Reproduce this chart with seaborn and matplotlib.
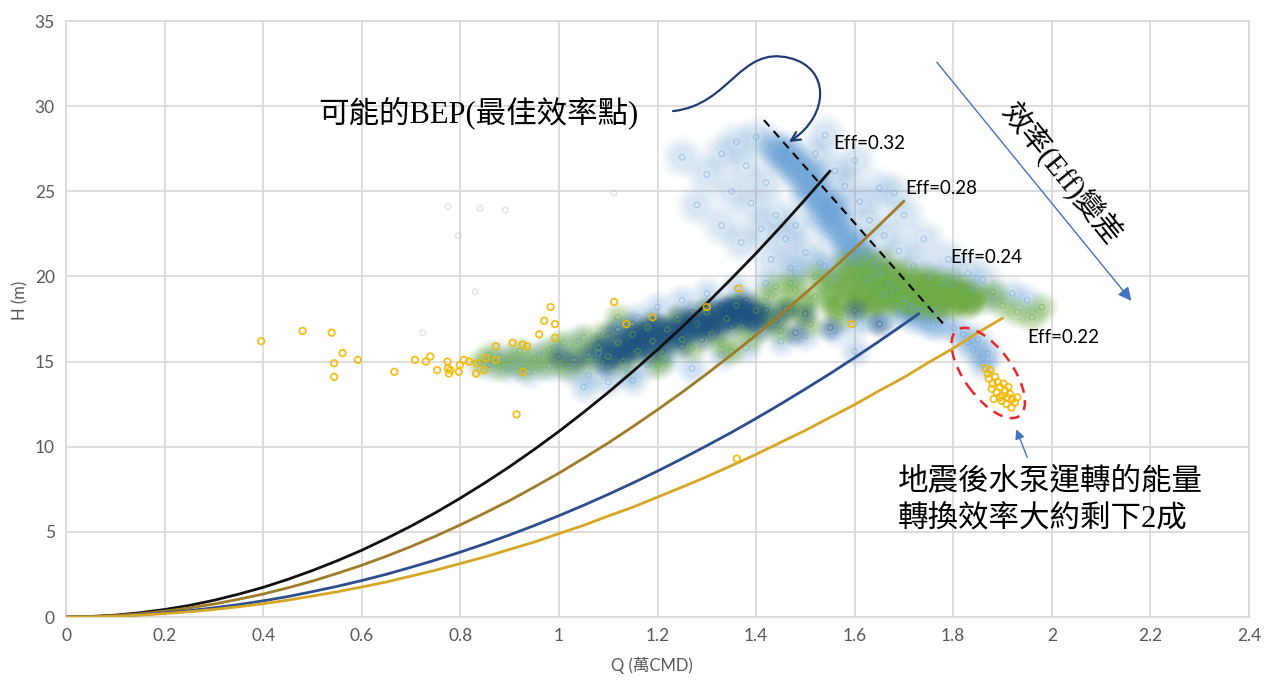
import numpy as np
import matplotlib
matplotlib.use("Agg")
import matplotlib.pyplot as plt
import matplotlib.transforms as mtransforms
from matplotlib.patches import Ellipse, FancyArrowPatch
from matplotlib.path import Path
import seaborn as sns

sns.set_theme(style="white")
plt.rcParams['font.family'] = ['Lato', 'Noto Sans CJK TC', 'DejaVu Sans']

# ---------------- efficiency curves (Q in 萬CMD, H in m) ----------------
q_eff032 = [0, 0.05, 0.1, 0.15, 0.2, 0.25, 0.3, 0.35, 0.4, 0.45, 0.5, 0.55, 0.6, 0.65, 0.7, 0.75,
            0.8, 0.85, 0.9, 0.95, 1.0, 1.05, 1.1, 1.15, 1.2, 1.25, 1.3, 1.35, 1.4, 1.45, 1.5, 1.55]
h_eff032 = [0, 0.03, 0.11, 0.25, 0.44, 0.68, 0.98, 1.34, 1.74, 2.21, 2.73, 3.30, 3.92, 4.61, 5.34, 6.13,
            6.98, 7.88, 8.83, 9.84, 10.9, 12.02, 13.19, 14.42, 15.70, 17.03, 18.42, 19.87, 21.36, 22.92, 24.53, 26.19]

q_eff028 = [0, 0.05, 0.1, 0.15, 0.2, 0.25, 0.3, 0.35, 0.4, 0.45, 0.5, 0.55, 0.6, 0.65, 0.7, 0.75, 0.8, 0.85,
            0.9, 0.95, 1.0, 1.05, 1.1, 1.15, 1.2, 1.25, 1.3, 1.35, 1.4, 1.45, 1.5, 1.55, 1.6, 1.65, 1.7]
h_eff028 = [0, 0.02, 0.08, 0.19, 0.34, 0.53, 0.76, 1.04, 1.35, 1.71, 2.11, 2.56, 3.04, 3.57, 4.14, 4.75, 5.41, 6.11,
            6.84, 7.63, 8.45, 9.32, 10.22, 11.18, 12.17, 13.20, 14.28, 15.40, 16.56, 17.77, 19.01, 20.30, 21.63, 23.01, 24.42]

q_eff024 = [0, 0.05, 0.1, 0.15, 0.2, 0.25, 0.3, 0.35, 0.4, 0.45, 0.5, 0.55, 0.6, 0.65, 0.7, 0.75, 0.8, 0.85,
            0.9, 0.95, 1.0, 1.05, 1.1, 1.15, 1.2, 1.25, 1.3, 1.35, 1.4, 1.45, 1.5, 1.55, 1.6, 1.65, 1.7, 1.73]
h_eff024 = [0, 0.01, 0.06, 0.13, 0.24, 0.37, 0.54, 0.73, 0.95, 1.20, 1.49, 1.80, 2.14, 2.51, 2.92, 3.35, 3.81, 4.30,
            4.82, 5.37, 5.95, 6.56, 7.20, 7.87, 8.57, 9.30, 10.06, 10.84, 11.66, 12.51, 13.39, 14.29, 15.23, 16.20, 17.20, 17.81]

q_eff022 = [0, 0.05, 0.1, 0.15, 0.2, 0.25, 0.3, 0.35, 0.4, 0.45, 0.5, 0.55, 0.6, 0.65, 0.7, 0.75, 0.8, 0.85, 0.9, 0.95,
            1.0, 1.05, 1.1, 1.15, 1.2, 1.25, 1.3, 1.35, 1.4, 1.45, 1.5, 1.55, 1.6, 1.65, 1.7, 1.75, 1.8, 1.85, 1.9]
h_eff022 = [0, 0.01, 0.05, 0.11, 0.20, 0.31, 0.44, 0.60, 0.78, 0.99, 1.23, 1.48, 1.76, 2.06, 2.40, 2.75, 3.14, 3.53, 3.97, 4.40,
            4.90, 5.38, 5.93, 6.45, 7.04, 7.63, 8.24, 8.89, 9.55, 10.26, 10.96, 11.72, 12.47, 13.29, 14.07, 14.95, 15.78, 16.70, 17.55]

# ---------------- operating records ----------------
# light blue: high-head band and surrounding spread
lb_band_q = [1.43, 1.44, 1.46, 1.45, 1.47, 1.48, 1.50, 1.49, 1.51, 1.52,
             1.50, 1.53, 1.54, 1.55, 1.53, 1.56, 1.57, 1.55, 1.58, 1.60,
             1.58, 1.61, 1.62, 1.60, 1.64, 1.65, 1.63, 1.67, 1.68, 1.66,
             1.70, 1.71, 1.73, 1.72, 1.75, 1.77, 1.47, 1.52, 1.56, 1.59]
lb_band_h = [27.8, 27.3, 27.5, 26.9, 26.6, 26.2, 26.4, 25.8, 25.5, 25.0,
             24.8, 24.5, 24.1, 24.4, 23.6, 23.4, 23.0, 22.7, 22.4, 22.1,
             21.8, 21.5, 21.1, 20.8, 20.6, 20.2, 19.9, 19.6, 19.2, 18.9,
             18.7, 18.3, 18.0, 17.6, 17.4, 17.2, 27.1, 25.9, 23.9, 21.3]
lb_haze_q = [1.30, 1.33, 1.36, 1.38, 1.40, 1.35, 1.39, 1.42, 1.44, 1.41,
             1.46, 1.48, 1.50, 1.53, 1.47, 1.56, 1.52, 1.56, 1.58, 1.61,
             1.63, 1.66, 1.69, 1.72, 1.75, 1.78, 1.60, 1.65, 1.70, 1.74,
             1.79, 1.83, 1.28, 1.33, 1.37, 1.43, 1.25, 1.54, 1.68, 1.86]
lb_haze_h = [26.0, 27.2, 27.9, 26.5, 28.2, 25.0, 24.3, 25.5, 23.6, 22.8,
             22.2, 23.0, 21.4, 20.8, 20.5, 20.0, 27.2, 26.2, 25.3, 24.4,
             23.3, 22.4, 21.5, 20.6, 20.0, 19.6, 26.8, 25.2, 23.6, 22.2,
             21.0, 20.2, 24.2, 23.0, 22.0, 21.0, 27.0, 28.3, 24.9, 19.8]
# light blue: low-head band and post-earthquake tail
lb_low_q = [0.86, 0.88, 0.90, 0.92, 0.94, 0.96, 0.98, 1.00, 1.02, 1.04,
            1.06, 1.08, 1.10, 1.12, 1.14, 1.16, 1.18, 1.20, 1.22, 1.25,
            1.27, 1.30, 1.33, 1.36, 1.38, 1.42, 1.45, 1.48, 1.50, 1.54,
            1.56, 1.60, 1.63, 1.66, 1.69, 1.72, 1.76, 1.80, 1.84, 1.88,
            1.92, 1.95, 1.05, 1.15, 1.60,
            1.80, 1.82, 1.83, 1.84, 1.85, 1.86, 1.86, 1.87]
lb_low_h = [14.8, 15.3, 14.6, 15.0, 14.4, 15.4, 14.7, 15.8, 14.5, 16.2,
            14.2, 15.5, 13.8, 17.0, 14.3, 17.6, 14.8, 18.2, 15.2, 18.6,
            14.6, 19.0, 15.4, 19.3, 15.8, 19.6, 16.2, 20.2, 16.5, 20.6,
            16.8, 17.2, 17.5, 17.4, 17.8, 18.2, 18.0, 19.5, 19.2, 18.8,
            19.0, 18.6, 13.5, 13.9, 15.6,
            17.0, 16.6, 16.1, 15.7, 16.3, 15.2, 14.8, 15.5]

green_q = [0.84, 0.86, 0.88, 0.90, 0.92, 0.93, 0.95, 0.97, 0.98, 1.00,
           1.01, 1.02, 1.04, 1.05, 1.06, 1.08, 1.09, 1.10, 1.12, 1.13,
           1.15, 1.16, 1.18, 1.19, 1.21, 1.22, 1.24, 1.25, 1.27, 1.28,
           1.30, 1.31, 1.33, 1.34, 1.36, 1.37, 1.39, 1.40, 1.42, 1.43,
           1.45, 1.46, 1.48, 1.49, 1.51, 1.52, 1.54, 1.55, 1.57, 1.58,
           1.60, 1.61, 1.62, 1.63, 1.64, 1.65, 1.66, 1.67, 1.68, 1.69,
           1.70, 1.71, 1.72, 1.73, 1.74, 1.75, 1.76, 1.77, 1.78, 1.79,
           1.80, 1.81, 1.82, 1.83, 1.84, 1.86, 1.88, 1.90, 1.93, 1.96,
           1.98, 1.58, 1.62, 1.66, 1.52, 1.47, 1.44, 1.12, 1.20, 1.35]
green_h = [14.9, 15.4, 14.7, 15.1, 15.6, 14.6, 15.2, 14.8, 15.7, 15.0,
           16.1, 14.7, 15.5, 16.4, 15.0, 15.8, 16.6, 15.3, 16.1, 15.0,
           16.6, 15.6, 17.0, 16.2, 15.4, 16.9, 17.5, 16.3, 15.8, 17.2,
           17.9, 16.6, 16.0, 17.5, 18.3, 17.0, 16.4, 18.0, 18.8, 17.4,
           16.8, 18.4, 19.2, 17.8, 17.2, 18.8, 19.6, 18.3, 17.6, 19.3,
           20.2, 18.8, 19.7, 18.1, 20.5, 19.2, 18.5, 20.0, 19.5, 18.8,
           20.3, 19.7, 19.0, 18.4, 20.0, 19.3, 18.7, 19.8, 19.1, 18.5,
           19.6, 18.9, 19.3, 18.4, 19.0, 18.6, 19.1, 18.3, 17.9, 17.6,
           18.2, 20.8, 21.0, 20.9, 20.0, 19.6, 19.4, 17.6, 14.8, 15.6]
# densest green records (high-flow band)
green_core_q = [1.55, 1.56, 1.57, 1.58, 1.59, 1.60, 1.61, 1.62, 1.63, 1.64,
                1.65, 1.66, 1.67, 1.68, 1.69, 1.70, 1.71, 1.72, 1.73, 1.74,
                1.75, 1.76, 1.77, 1.78, 1.79, 1.80, 1.81, 1.82, 1.83, 1.84,
                1.56, 1.60, 1.64, 1.68, 1.72, 1.76, 1.80, 1.50, 1.46, 1.42]
green_core_h = [19.0, 19.8, 18.6, 20.1, 19.4, 18.9, 20.4, 19.1, 19.9, 18.7,
                20.0, 19.4, 18.9, 20.2, 19.6, 19.1, 18.6, 19.8, 19.3, 18.9,
                19.6, 19.0, 18.4, 19.4, 18.9, 19.1, 18.6, 18.9, 18.3, 18.7,
                18.2, 18.3, 18.4, 18.3, 18.2, 18.1, 18.2, 18.5, 18.0, 17.6]

navy_q = [1.06, 1.08, 1.09, 1.10, 1.11, 1.12, 1.13, 1.14, 1.15, 1.16,
          1.17, 1.18, 1.19, 1.20, 1.21, 1.22, 1.23, 1.24, 1.25, 1.26,
          1.27, 1.28, 1.29, 1.30, 1.31, 1.32, 1.33, 1.34, 1.35, 1.36,
          1.37, 1.38, 1.39, 1.40, 1.41, 1.42, 1.44, 1.46, 1.48, 1.50,
          1.18, 1.22, 1.14, 1.30, 1.34, 1.26, 1.16, 1.38, 1.55, 1.60,
          1.65, 1.03, 1.00, 1.10]
navy_h = [15.4, 16.0, 15.0, 16.5, 15.6, 16.9, 15.2, 16.3, 17.2, 15.8,
          16.7, 15.4, 17.4, 16.2, 15.6, 17.0, 16.4, 17.6, 15.9, 16.8,
          17.9, 17.2, 16.3, 18.1, 17.5, 16.8, 18.3, 17.7, 17.1, 18.4,
          17.9, 17.3, 18.2, 17.6, 16.9, 18.0, 17.4, 18.1, 16.7, 17.8,
          16.0, 16.2, 15.6, 17.0, 18.0, 17.4, 16.4, 18.6, 17.0, 18.0,
          17.2, 15.1, 15.3, 14.7]
# densest navy records
navy_core_q = [1.12, 1.14, 1.16, 1.18, 1.20, 1.13, 1.15, 1.17, 1.19, 1.21,
               1.23, 1.25, 1.27, 1.24, 1.26, 1.28, 1.30, 1.32, 1.34, 1.36,
               1.38, 1.40, 1.31, 1.33, 1.35, 1.37, 1.39, 1.29, 1.11, 1.09]
navy_core_h = [16.0, 16.4, 16.6, 16.9, 17.1, 15.6, 15.8, 16.1, 16.3, 16.6,
               16.9, 17.1, 17.4, 16.5, 16.7, 16.9, 17.6, 17.9, 18.1, 18.2,
               18.0, 17.8, 17.1, 17.4, 17.6, 17.6, 17.4, 17.2, 15.3, 15.7]

gold_q = [0.396, 0.480, 0.539, 0.561, 0.544, 0.544, 0.592, 0.666, 0.708, 0.730,
          0.739, 0.753, 0.774, 0.775, 0.780, 0.777, 0.797, 0.799, 0.807, 0.818,
          0.833, 0.832, 0.849, 0.852, 0.872, 0.872, 0.906, 0.926, 0.935, 0.960,
          0.970, 0.983, 0.992, 0.992, 0.914, 0.927, 1.112, 1.137, 1.190, 1.300,
          1.365, 1.594, 1.361]
gold_h = [16.2, 16.8, 16.7, 15.5, 14.9, 14.1, 15.1, 14.4, 15.1, 15.0,
          15.3, 14.5, 15.0, 14.6, 14.5, 14.3, 14.4, 14.8, 15.1, 15.0,
          14.9, 14.3, 14.5, 15.2, 15.1, 15.9, 16.1, 16.0, 15.9, 16.6,
          17.4, 18.2, 17.2, 16.4, 11.9, 14.4, 18.5, 17.2, 17.6, 18.2,
          19.3, 17.2, 9.3]
# post-earthquake operating points
quake_q = [1.865, 1.870, 1.875, 1.872, 1.880, 1.885, 1.878, 1.890, 1.888, 1.895,
           1.900, 1.898, 1.905, 1.910, 1.915, 1.908, 1.920, 1.925, 1.930, 1.918,
           1.895, 1.882, 1.902, 1.912]
quake_h = [14.6, 14.3, 14.5, 14.0, 13.7, 14.1, 13.4, 13.8, 13.2, 13.5,
           13.0, 12.7, 13.3, 12.9, 13.1, 12.5, 12.8, 12.6, 12.9, 12.3,
           12.9, 12.8, 13.7, 13.5]

faint_q = [0.775, 0.840, 0.891, 0.724, 0.830, 0.796, 1.112]
faint_h = [24.1, 24.0, 23.9, 16.7, 19.1, 22.4, 24.9]

x_ticks = [0, 0.2, 0.4, 0.6, 0.8, 1.0, 1.2, 1.4, 1.6, 1.8, 2.0, 2.2, 2.4]
x_tick_labels = ['0', '0.2', '0.4', '0.6', '0.8', '1', '1.2', '1.4', '1.6', '1.8', '2', '2.2', '2.4']
y_ticks = [0, 5, 10, 15, 20, 25, 30, 35]
y_tick_labels = ['0', '5', '10', '15', '20', '25', '30', '35']

eff_labels = ['Eff=0.32', 'Eff=0.28', 'Eff=0.24', 'Eff=0.22']

# ---------------- colours ----------------
C_LB = '#6aa3d8'
C_GREEN = '#6cab42'
C_NAVY = '#1d5282'
C_GOLD = '#f2b800'
C_GRID = '#dcd7d7'
C_TXT = '#595959'

fig = plt.figure(figsize=(12.71, 6.8), dpi=100)
ax = fig.add_axes([66 / 1271, 1 - 617 / 680, (1249 - 66) / 1271, (617 - 21) / 680])

# disc sizes (relative) and opacity shares for the soft cloud rendering
HAZE_STEPS = [(1.0, 0.10), (0.78, 0.14), (0.58, 0.18), (0.40, 0.22), (0.24, 0.30)]


def haze(q, h, color, alpha, size, z):
    # stacked soft discs: a dense cluster of records reads as a cloud
    for f, a in HAZE_STEPS:
        sns.scatterplot(x=q, y=h, color=color, s=size * f, linewidth=0, alpha=alpha * a,
                        ax=ax, zorder=z, legend=False)


def rings(q, h, color, alpha, size=16, lw=0.9, z=2):
    sns.scatterplot(x=q, y=h, color=color, facecolor='none', edgecolor=color,
                    s=size, linewidth=lw, alpha=alpha, ax=ax, zorder=z, legend=False)


lb_all_q = lb_band_q + lb_haze_q + lb_low_q
lb_all_h = lb_band_h + lb_haze_h + lb_low_h

haze(lb_haze_q, lb_haze_h, C_LB, 0.28, 1100, 1.0)
haze(lb_band_q, lb_band_h, C_LB, 0.55, 800, 1.05)
haze(lb_low_q, lb_low_h, C_LB, 0.34, 650, 1.1)
haze(green_q, green_h, C_GREEN, 0.50, 560, 1.2)
haze(green_core_q, green_core_h, C_GREEN, 0.75, 480, 1.25)
haze(navy_q, navy_h, C_NAVY, 0.45, 430, 1.3)
haze(navy_core_q, navy_core_h, C_NAVY, 0.75, 360, 1.35)

rings(faint_q, faint_h, '#a0a8b0', 0.35)
rings(lb_all_q, lb_all_h, C_LB, 0.45)
rings(green_q, green_h, C_GREEN, 0.5, z=2.1)
rings(navy_q, navy_h, C_NAVY, 0.4, z=2.2)

# efficiency curves
for q, h, c in [(q_eff032, h_eff032, '#111111'), (q_eff028, h_eff028, '#a07c28'),
                (q_eff024, h_eff024, '#2c4d8e'), (q_eff022, h_eff022, '#d6a624')]:
    sns.lineplot(x=q, y=h, color=c, linewidth=2.0, ax=ax, zorder=3, sort=False)

rings(gold_q, gold_h, C_GOLD, 0.9, size=22, lw=1.3, z=4)
rings(quake_q, quake_h, C_GOLD, 0.9, size=22, lw=1.3, z=4)

# BEP trace
ax.plot([1.416, 1.785], [29.18, 17.05], color='black', lw=1.5, dashes=(4, 3), zorder=5)

# axes styling
ax.set_xlim(0, 2.4)
ax.set_ylim(0, 35)
ax.set_xticks(x_ticks)
ax.set_xticklabels(x_tick_labels)
ax.set_yticks(y_ticks)
ax.set_yticklabels(y_tick_labels)
ax.tick_params(axis='both', length=0, labelsize=12.5, labelcolor=C_TXT, pad=8)
ax.grid(True, color=C_GRID, linewidth=1.2)
ax.set_axisbelow(True)
for s in ax.spines.values():
    s.set_color(C_GRID)
    s.set_linewidth(1.2)
ax.set_xlabel('')
ax.set_ylabel('')
fig.text(652 / 1271, 1 - 665 / 680, 'Q (萬CMD)', ha='center', va='center', fontsize=12, color=C_TXT)
fig.text(20 / 1271, 1 - 300 / 680, 'H (m)', ha='center', va='center', rotation=90, fontsize=12, color=C_TXT)

# efficiency labels
for (x, y), lab in zip([(1.556, 27.83), (1.702, 25.19), (1.793, 21.14), (1.950, 16.44)], eff_labels):
    ax.text(x, y, lab, fontsize=13.5, color='black', ha='left', va='center', zorder=6)

serif_cjk = ['Liberation Serif', 'Noto Sans CJK TC']
ax.text(0.511, 29.6, '可能的BEP(最佳效率點)', family=serif_cjk, fontsize=22, fontweight='light',
        ha='left', va='center', color='black', zorder=6)

# curved pointer to the best efficiency point
verts = [(1.2315, 29.71), (1.3471, 30.06), (1.3674, 33.59), (1.4689, 32.82),
         (1.5500, 32.24), (1.5500, 29.48), (1.4668, 27.89)]
codes = [Path.MOVETO, Path.CURVE4, Path.CURVE4, Path.CURVE4, Path.CURVE4, Path.CURVE4, Path.CURVE4]
ax.add_patch(FancyArrowPatch(path=Path(verts, codes), arrowstyle='->', mutation_scale=16,
                             color='#1f3d73', lw=1.6, zorder=6))

# efficiency-decline arrow
ax.annotate('', xy=(2.165, 18.44), xytext=(1.763, 32.71),
            arrowprops=dict(arrowstyle='-|>', color='#4472c4', lw=1.0, mutation_scale=20), zorder=6)
ax.text(2.020, 26.0, '效率(Eff)變差', family=serif_cjk, fontsize=21, fontweight='light', rotation=-51,
        rotation_mode='anchor', ha='center', va='center', color='black', zorder=6)

# ring around the post-earthquake points
trans = fig.dpi_scale_trans + mtransforms.ScaledTranslation(1.871, 14.33, ax.transData)
ax.add_patch(Ellipse((0, 0), width=1.06, height=0.48, angle=-54, transform=trans,
                     fill=False, ec='#e8262b', lw=1.8, ls=(0, (4, 3)), zorder=6))

ax.annotate('', xy=(1.926, 11.17), xytext=(1.952, 9.22),
            arrowprops=dict(arrowstyle='-|>', color='#4472c4', lw=1.0, mutation_scale=14), zorder=6)
ax.text(1.688, 7.93, '地震後水泵運轉的能量', family=serif_cjk, fontsize=22, fontweight='light',
        ha='left', va='center', color='black', zorder=6)
ax.text(1.688, 5.70, '轉換效率大約剩下2成', family=serif_cjk, fontsize=22, fontweight='light',
        ha='left', va='center', color='black', zorder=6)

fig.savefig('out.png', dpi=100)
